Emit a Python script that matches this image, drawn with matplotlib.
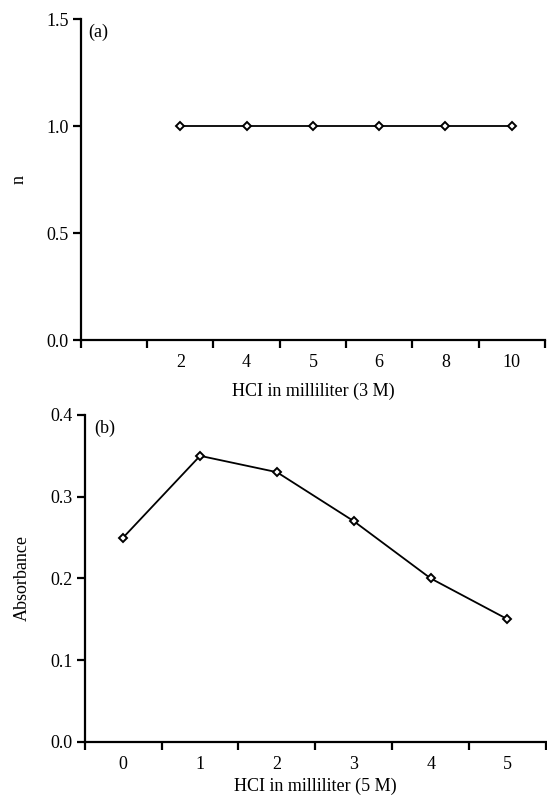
import matplotlib
matplotlib.use("Agg")
from matplotlib import pyplot as plt
import numpy as np

# panel (a)
hcl_3m = ["2", "4", "5", "6", "8", "10"]
n_vals = [1.0, 1.0, 1.0, 1.0, 1.0, 1.0]

# panel (b)
hcl_5m = ["0", "1", "2", "3", "4", "5"]
absorbance = [0.25, 0.35, 0.33, 0.27, 0.20, 0.15]

plt.rcParams['font.family'] = ['Liberation Serif', 'DejaVu Serif']
plt.rcParams['font.size'] = 13

fig = plt.figure(figsize=(5.47, 7.95), dpi=100)


def style_axes(ax, nslots, offset, labels):
    for s in ('top', 'right'):
        ax.spines[s].set_visible(False)
    for s in ('left', 'bottom'):
        ax.spines[s].set_linewidth(1.6)
    ax.set_xlim(0, nslots)
    ax.set_xticks(np.arange(nslots + 1))
    ax.set_xticklabels([])
    ax.set_xticks(np.arange(len(labels)) + offset + 0.5, minor=True)
    ax.set_xticklabels(labels, minor=True)
    ax.tick_params(axis='x', which='major', direction='out', length=6, width=1.6)
    ax.tick_params(axis='x', which='minor', length=0, pad=10)
    ax.tick_params(axis='y', direction='out', length=6, width=1.6, pad=3)


# (a)
ax1 = fig.add_axes([0.148, 0.572, 0.848, 0.404])
x1 = np.arange(len(hcl_3m)) + 1.5
ax1.plot(x1, n_vals, color='black', lw=1.3, marker='D', ms=4.5,
         mfc='white', mec='black', mew=1.4)
style_axes(ax1, 7, 1, hcl_3m)
ax1.set_ylim(0, 1.5)
ax1.set_yticks([0.0, 0.5, 1.0, 1.5])
ax1.set_yticklabels(["0.0", "0.5", "1.0", "1.5"])
ax1.set_ylabel("n")
ax1.yaxis.set_label_coords(-0.115, 0.5)
ax1.set_xlabel("HCI in milliliter (3 M)", labelpad=8)
ax1.text(0.015, 0.985, "(a)", transform=ax1.transAxes, ha='left', va='top')

# (b)
ax2 = fig.add_axes([0.155, 0.067, 0.843, 0.411])
x2 = np.arange(len(hcl_5m)) + 0.5
ax2.plot(x2, absorbance, color='black', lw=1.3, marker='D', ms=4.5,
         mfc='white', mec='black', mew=1.4)
style_axes(ax2, 6, 0, hcl_5m)
ax2.set_ylim(0, 0.4)
ax2.set_yticks([0.0, 0.1, 0.2, 0.3, 0.4])
ax2.set_yticklabels(["0.0", "0.1", "0.2", "0.3", "0.4"])
ax2.set_ylabel("Absorbance")
ax2.yaxis.set_label_coords(-0.116, 0.5)
ax2.set_xlabel("HCI in milliliter (5 M)", labelpad=4)
ax2.text(0.02, 0.985, "(b)", transform=ax2.transAxes, ha='left', va='top')

fig.savefig("out.png", dpi=100)
